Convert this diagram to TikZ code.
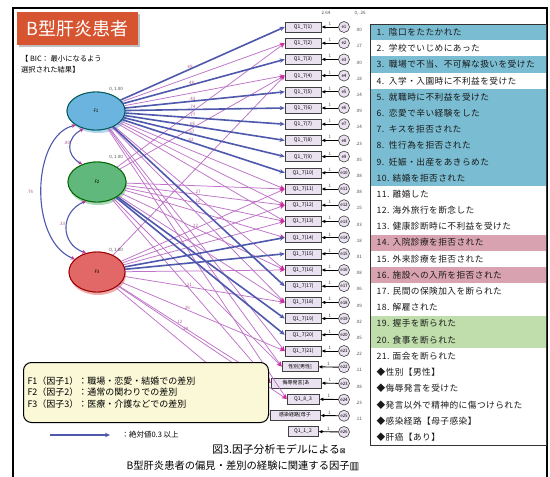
\documentclass[tikz,border=0pt]{standalone}
\usepackage{fontspec}
\setmainfont{Noto Sans CJK JP}
\newfontfamily\symf{DejaVu Sans}
\newfontfamily\listf[LetterSpace=5]{Noto Sans CJK JP}
\usetikzlibrary{arrows.meta,shapes.geometric,shadows}
\definecolor{thickc}{RGB}{78,88,172}
\definecolor{thinc}{RGB}{190,115,200}
\definecolor{tipc}{RGB}{205,45,160}
\definecolor{titlered}{RGB}{214,84,48}
\definecolor{rowblue}{RGB}{122,188,210}
\definecolor{rowpink}{RGB}{216,162,176}
\definecolor{rowgreen}{RGB}{192,222,172}
\definecolor{legbg}{RGB}{250,248,214}
\definecolor{boxfill}{RGB}{234,226,240}
\definecolor{f1c}{RGB}{108,180,224}
\definecolor{f2c}{RGB}{96,184,124}
\definecolor{f3c}{RGB}{226,104,104}
\definecolor{numc}{RGB}{170,90,150}
\newcommand\tinyf{\fontsize{4.5}{5}\selectfont}
\begin{document}
\begin{tikzpicture}[x=1pt,y=-1pt,
  thickl/.style={draw=thickc, line width=1.6pt, -{Stealth[length=5pt,width=4.5pt]}},
  thinl/.style={draw=thinc, line width=0.75pt, -{Stealth[length=5pt,width=4.5pt,color=tipc]}},
  cov/.style={draw=thickc, line width=1.1pt, {Stealth[length=4pt,width=4pt,color=tipc]}-{Stealth[length=4pt,width=4pt,color=tipc]}},
  qbox/.style={draw=black!75, fill=boxfill, line width=0.6pt, minimum height=10pt, minimum width=36pt, inner sep=1pt, font=\fontsize{5}{5}\selectfont, drop shadow={shadow xshift=0.8pt, shadow yshift=-0.8pt, fill=black!45, opacity=0.8}},
  errc/.style={circle, draw=black!75, fill=boxfill, line width=0.6pt, minimum size=11pt, inner sep=0pt, font=\tinyf},
  fac/.style={ellipse, line width=0.9pt, minimum width=58pt, minimum height=38pt, font=\tinyf},
  small/.style={font=\tinyf, text=black!70},
  loadl/.style={font=\tinyf, text=numc, inner sep=0.5pt},
  listtxt/.style={anchor=west, font=\listf\fontsize{8.7}{9}\selectfont, text=black!90},
  errarrow/.style={-{Latex[length=4pt,width=3.5pt]}, line width=0.9pt, black}]
\useasboundingbox (0,0) rectangle (550,477);
\fill[white] (0,0) rectangle (550,477);
% frame
\draw[line width=1.2pt] (13,490) -- (13,8) -- (547,8) -- (547,490);

% title
\node[fill=titlered, text=white, minimum width=121pt, minimum height=33pt,
  font=\fontsize{18}{18}\selectfont, drop shadow={shadow xshift=1.5pt, shadow yshift=-1.5pt, fill=black!50}] (title) at (77.5,28.5) {B型肝炎患者};
\node[anchor=north west, align=left, inner sep=0pt, font=\fontsize{7.3}{11}\selectfont] (bic) at (21,55) {【 BIC： 最小になるよう\\選択された結果】};

% factor halos
\fill[f1c!55] (98,114) ellipse (29 and 19);
\fill[f2c!55] (98,185) ellipse (29 and 20);
\fill[f3c!55] (98,275) ellipse (28 and 20);
\node[fac, draw=teal!70!black, fill=f1c] (F1) at (96,111) {F1};
\node[fac, draw=green!40!black, fill=f2c, minimum height=40pt] (F2) at (97,182) {F2};
\node[fac, draw=red!60!black, fill=f3c, minimum width=56pt, minimum height=40pt] (F3) at (97,272) {F3};

% observed boxes and errors
\foreach \i in {1,...,21} {
  \pgfmathsetmacro\yy{27+(\i-1)*16.2}
  \node[qbox] (q\i) at (303,\yy) {Q1\_7(\i)};
  \node[errc] (e\i) at (344,\yy) {e\i};
}
\node[qbox] (q22) at (300,366.6) {性別[男性]};
\node[qbox, minimum width=50pt] (q23) at (296,382.8) {侮辱発言[あ};
\node[qbox, minimum width=32pt] (q24) at (303,399) {Q1\_8\_3};
\node[qbox, minimum width=50pt] (q25) at (295,415.2) {感染経路[母子};
\node[qbox, minimum width=30pt] (q26) at (303,431.4) {Q1\_1\_2};
\foreach \i in {22,...,26} {
  \pgfmathsetmacro\yy{27+(\i-1)*16.2}
  \node[errc] (e\i) at (344,\yy) {e\i};
}
\foreach \i in {1,...,26} {
  \draw[errarrow] (e\i) -- (q\i) node[midway, above, small, inner sep=1pt] {1};
}
\foreach \i/\v in {1/.00,2/.17,3/.00,4/.18,5/.14,6/.09,7/.14,8/.23,9/.05,10/.08,11/.08,12/.15,13/.03,14/.18,15/.01,16/.08,17/.06,18/.09,19/.02,20/.05,21/.22,22/.11,23/.08,24/.23,25/.11} {
  \pgfmathsetmacro\yy{30+(\i-1)*16.2}
  \node[small, anchor=west] (v\i) at (352,\yy) {\v};
}
\node[small] (top1) at (326,13) {2.64};
\node[small] (top2) at (360,13) {0, .26};

% thin loadings
\foreach \t in {2,4,11,12,13,16,18,21,22,24} \draw[thinl] (F1) -- (q\t.west);
\foreach \t in {2,4,11,12,13,14,16,18,22,23} \draw[thinl] (F2) -- (q\t.west);
\foreach \t in {4,11,12,13,16,18,21,23,24,25} \draw[thinl] (F3) -- (q\t.west);
% thick loadings
\foreach \t in {1,3,5,6,7,8,9,10,17} \draw[thickl] (F1) -- (q\t.west);
\foreach \t in {19,20} \draw[thickl] (F2) -- (q\t.west);
\foreach \t in {14,15} \draw[thickl] (F3) -- (q\t.west);
% loading labels
\foreach \t/\v in {1/.69,3/.48,5/.43,6/.74,7/.77,8/.66,9/.57,10/.62} \path (F1) -- (q\t.west) node[pos=0.42, loadl, above] {\v};
\foreach \t/\v in {12/.27,13/.12,16/.22} \path (F2) -- (q\t.west) node[pos=0.45, loadl, above] {\v};
\foreach \t/\v in {18/.21,21/.26,23/.12,24/.20} \path (F3) -- (q\t.west) node[pos=0.4, loadl, above] {\v};

% redraw factors on top
\node[fac, draw=teal!70!black, fill=f1c] at (F1) {F1};
\node[fac, draw=green!40!black, fill=f2c, minimum height=40pt] at (F2) {F2};
\node[fac, draw=red!60!black, fill=f3c, minimum width=56pt, minimum height=40pt] at (F3) {F3};
\node[small] (n1) at (116,89) {0, 1.00};
\node[small] (n2) at (116,157) {0, 1.00};
\node[small] (n3) at (116,250) {0, 1.00};

% covariances
\draw[cov] (F1.235) .. controls (66,138) and (66,155) .. (F2.130);
\draw[cov] (F1.215) .. controls (32,135) and (28,240) .. (F3.150);
\draw[cov] (F2.240) .. controls (60,212) and (60,244) .. (F3.120);
\node[small, text=numc] (c12) at (67,143) {.80};
\node[small, text=numc] (c13) at (30,192) {.76};
\node[small, text=numc] (c23) at (62,224) {.33};

% list
\foreach \k in {1,3,5,6,7,8,9,10} \fill[rowblue] (370,{24+(\k-1)*16.2}) rectangle (546,{24+\k*16.2});
\foreach \k in {14,16} \fill[rowpink] (370,{24+(\k-1)*16.2}) rectangle (546,{24+\k*16.2});
\foreach \k in {19,20} \fill[rowgreen] (370,{24+(\k-1)*16.2}) rectangle (546,{24+\k*16.2});
\draw[black!80, line width=0.8pt] (370,24) rectangle (546,445.2);
\foreach \k/\txt in {
 1/{1.\ \ 陰口をたたかれた},
 2/{2.\ \ 学校でいじめにあった},
 3/{3.\ \ 職場で不当、不可解な扱いを受けた},
 4/{4.\ \ 入学・入園時に不利益を受けた},
 5/{5.\ \ 就職時に不利益を受けた},
 6/{6.\ \ 恋愛で辛い経験をした},
 7/{7.\ \ キスを拒否された},
 8/{8.\ \ 性行為を拒否された},
 9/{9.\ \ 妊娠・出産をあきらめた},
 10/{10. 結婚を拒否された},
 11/{11. 離婚した},
 12/{12. 海外旅行を断念した},
 13/{13. 健康診断時に不利益を受けた},
 14/{14. 入院診療を拒否された},
 15/{15. 外来診療を拒否された},
 16/{16. 施設への入所を拒否された},
 17/{17. 民間の保険加入を断られた},
 18/{18. 解雇された},
 19/{19. 握手を断られた},
 20/{20. 食事を断られた},
 21/{21. 面会を断られた},
 22/{◆性別【男性】},
 23/{◆侮辱発言を受けた},
 24/{◆発言以外で精神的に傷つけられた},
 25/{◆感染経路【母子感染】},
 26/{◆肝癌【あり】}} {
  \node[listtxt] (r\k) at (373,{32.1+(\k-1)*16.2}) {\txt};
}

% legend
\node[draw=black, line width=1pt, rounded corners=8pt, fill=legbg, anchor=north west,
  text width=237pt, inner xsep=4pt, minimum height=60pt, align=left,
  font=\fontsize{9}{11.6}\selectfont] (leg) at (23,362)
  {F1（因子1）：職場・恋愛・結婚での差別\\F2（因子2）：通常の関わりでの差別\\F3（因子3）：医療・介護などでの差別};
\coordinate (la) at (50,435);
\coordinate (lb) at (110,435);
\draw[thickl, line width=1.8pt] (la) -- (lb);
\node[anchor=west, font=\fontsize{7.5}{8}\selectfont] (lt) at (118,435) {：絶対値0.3 以上};

% caption
\node[font=\fontsize{10.8}{11}\selectfont] (cap1) at (279,449) {図3.因子分析モデルによる{\symf\fontsize{7}{7}\selectfont ⊠}};
\node[font=\fontsize{10.3}{11}\selectfont] (cap2) at (243,466) {B型肝炎患者の偏見・差別の経験に関連する因子{\symf ▥}};
\end{tikzpicture}
\end{document}
